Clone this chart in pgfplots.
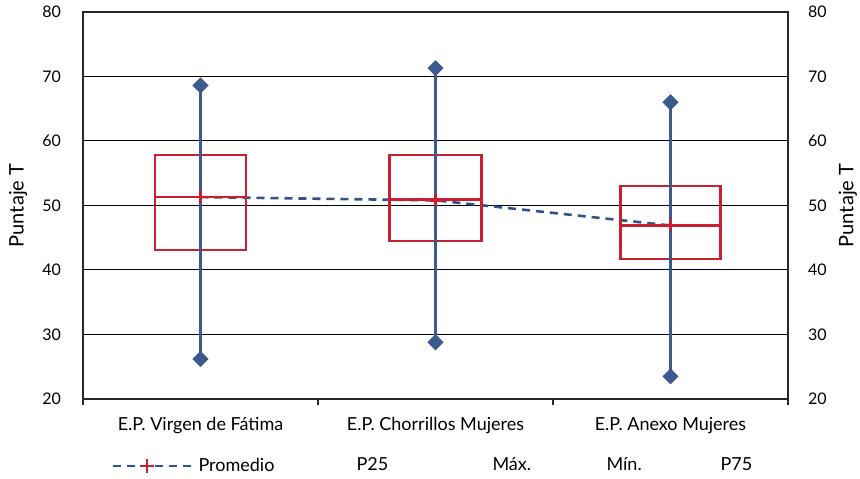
\documentclass[border=0pt]{standalone}
\usepackage{fontspec}
\setmainfont{Lato}
\usepackage{pgfplots}
\pgfplotsset{compat=1.18}

\definecolor{whisk}{RGB}{60,90,142}
\definecolor{meanln}{RGB}{47,82,143}
\definecolor{boxred}{RGB}{200,32,48}

\begin{document}
\begin{tikzpicture}
\pgfplotsset{
  base/.style={
    scale only axis, width=352.5pt, height=193.5pt,
    xmin=-0.5, xmax=2.5, ymin=20, ymax=80,
    ytick={20,30,...,80},
    /pgf/number format/assume math mode=true,
    tick label style={font=\fontsize{8}{9}\selectfont},
    label style={font=\fontsize{9}{10}\selectfont},
    axis line style={line width=1pt, black!85},
  },
  caja/.style={boxred, line width=1.3pt, line cap=rect, line join=miter, forget plot},
  rango/.style={whisk, line width=1.3pt, mark=square*, mark size=2.2pt,
    mark options={rotate=45}, forget plot},
}
\begin{axis}[base,
    xtick={0,1,2},
    xticklabels={E.P. Virgen de Fátima, E.P. Chorrillos Mujeres, E.P. Anexo Mujeres},
    xticklabel style={font=\fontsize{9}{10}\selectfont, yshift=-5.5pt},
    yticklabel style={xshift=-7.5pt},
    major tick length=0pt,
    tick pos=left,
    extra x ticks={-0.5,0.5,1.5,2.5},
    extra x tick labels={},
    extra x tick style={grid=none, tick align=outside, major tick length=3pt,
      tick style={line width=1pt, black!85}},
    ymajorgrids,
    major grid style={line width=0.5pt, black},
    ylabel={Puntaje T},
    every axis y label/.style={at={(axis description cs:-0.092,0.5)}, rotate=90, anchor=center},
    legend columns=5,
    legend style={draw=none, fill=none, at={(axis description cs:0.498,-0.173)}, anchor=center,
      font=\fontsize{9}{10}\selectfont, column sep=0pt},
  ]
  % promedio
  \addplot[meanln, line width=1.3pt, dash pattern=on 4pt off 3pt, forget plot,
    mark=+, mark size=3pt, mark options={solid, boxred}]
    coordinates {(0,51.3) (1,50.8) (2,46.9)};
  % cajas P25 - P75 y mediana
  \addplot[caja] coordinates {(-0.1935,43.1) (0.1935,43.1) (0.1935,57.8) (-0.1935,57.8) (-0.1935,43.1)};
  \addplot[caja] coordinates {(-0.1935,51.3) (0.1935,51.3)};
  \addplot[caja] coordinates {(0.805,44.5) (1.195,44.5) (1.195,57.8) (0.805,57.8) (0.805,44.5)};
  \addplot[caja] coordinates {(0.805,50.9) (1.195,50.9)};
  \addplot[caja] coordinates {(1.7875,41.7) (2.2125,41.7) (2.2125,53.0) (1.7875,53.0) (1.7875,41.7)};
  \addplot[caja] coordinates {(1.7875,46.9) (2.2125,46.9)};
  % min / max
  \addplot[rango] coordinates {(0,26.2) (0,68.6)};
  \addplot[rango] coordinates {(1,28.8) (1,71.3)};
  \addplot[rango] coordinates {(2,23.5) (2,66.0)};

  \addlegendimage{legend image code/.code={
    \draw[meanln, line width=1.3pt, dash pattern=on 4pt off 3pt] (0pt,0pt) -- (40pt,0pt);
    \draw[boxred, solid, line width=1.2pt] (17pt,-3.5pt) -- (17pt,3.5pt) (13.5pt,0pt) -- (20.5pt,0pt);}}
  \addlegendentry{\makebox[75pt][l]{Promedio}}
  \addlegendimage{empty legend}
  \addlegendentry{\makebox[64pt][l]{P25}}
  \addlegendimage{empty legend}
  \addlegendentry{\makebox[53pt][l]{Máx.}}
  \addlegendimage{empty legend}
  \addlegendentry{\makebox[53pt][l]{Mín.}}
  \addlegendimage{empty legend}
  \addlegendentry{P75}
\end{axis}
\begin{axis}[base,
    axis x line=none, axis y line*=right,
    major tick length=0pt,
    yticklabel style={xshift=6.5pt},
    ylabel={Puntaje T},
    every axis y label/.style={at={(axis description cs:1.085,0.5)}, rotate=90, anchor=center},
  ]
\end{axis}
\pgfresetboundingbox
\path ([shift={(-41.5pt,-40pt)}]current axis.south west) rectangle ([shift={(36pt,6pt)}]current axis.north east);
\end{tikzpicture}
\end{document}
